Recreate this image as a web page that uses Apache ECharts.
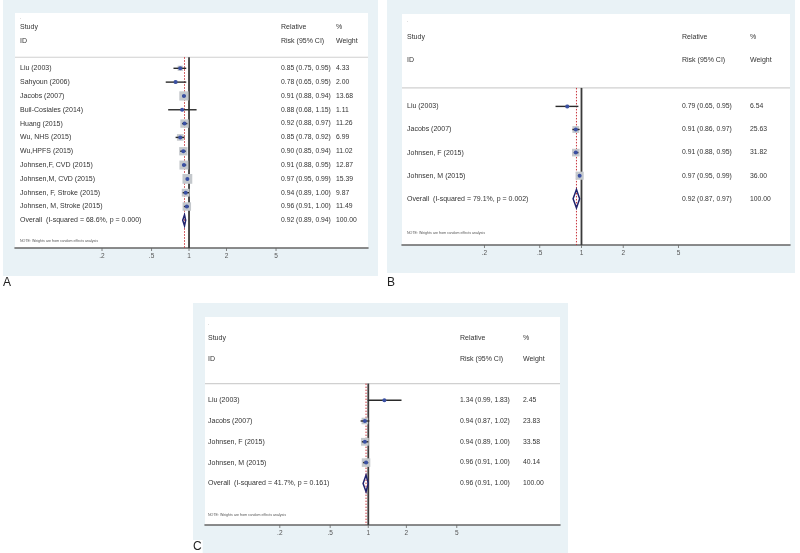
<!DOCTYPE html>
<html><head><meta charset="utf-8">
<script src="https://cdn.jsdelivr.net/npm/echarts@6/dist/echarts.min.js"></script>
<style>html,body{margin:0;padding:0;background:#fff}#c{width:800px;height:553px}</style>
</head><body><div id="c"></div>
<script>
// ---------- DATA ----------
const tickValues = [0.2, 0.5, 1, 2, 5];
const tickLabels = ['.2', '.5', '1', '2', '5'];
const headTop = ['Study', 'Relative', '%'];
const headBottom = ['ID', 'Risk (95% CI)', 'Weight'];
const noteText = 'NOTE: Weights are from random effects analysis';

// Panel A
const studyA = ['Liu (2003)', 'Sahyoun (2006)', 'Jacobs (2007)', 'Buil-Cosiales (2014)', 'Huang (2015)', 'Wu, NHS (2015)', 'Wu,HPFS (2015)', 'Johnsen,F, CVD (2015)', 'Johnsen,M, CVD (2015)', 'Johnsen, F, Stroke (2015)', 'Johnsen, M, Stroke (2015)', 'Overall  (I-squared = 68.6%, p = 0.000)'];
const rrA = [0.85, 0.78, 0.91, 0.88, 0.92, 0.85, 0.90, 0.91, 0.97, 0.94, 0.96, 0.92];
const loA = [0.75, 0.65, 0.88, 0.68, 0.88, 0.78, 0.85, 0.88, 0.95, 0.89, 0.91, 0.89];
const hiA = [0.95, 0.95, 0.94, 1.15, 0.97, 0.92, 0.94, 0.95, 0.99, 1.00, 1.00, 0.94];
const wA = [4.33, 2.00, 13.68, 1.11, 11.26, 6.99, 11.02, 12.87, 15.39, 9.87, 11.49, 100.00];

// Panel B
const studyB = ['Liu (2003)', 'Jacobs (2007)', 'Johnsen, F (2015)', 'Johnsen, M (2015)', 'Overall  (I-squared = 79.1%, p = 0.002)'];
const rrB = [0.79, 0.91, 0.91, 0.97, 0.92];
const loB = [0.65, 0.86, 0.88, 0.95, 0.87];
const hiB = [0.95, 0.97, 0.95, 0.99, 0.97];
const wB = [6.54, 25.63, 31.82, 36.00, 100.00];

// Panel C
const studyC = ['Liu (2003)', 'Jacobs (2007)', 'Johnsen, F (2015)', 'Johnsen, M (2015)', 'Overall  (I-squared = 41.7%, p = 0.161)'];
const rrC = [1.34, 0.94, 0.94, 0.96, 0.96];
const loC = [0.99, 0.87, 0.89, 0.91, 0.91];
const hiC = [1.83, 1.02, 1.00, 1.00, 1.00];
const wC = [2.45, 23.83, 33.58, 40.14, 100.00];

// ---------- LAYOUT ----------
const FONT = '"Liberation Sans", Arial, Helvetica, sans-serif';
const panels = [
  {name: 'A', studies: studyA, rr: rrA, lo: loA, hi: hiA, w: wA,
   grid: {left: 15, top: 13, width: 353, height: 235}, xr: [0.04, 27.4],
   labelDx: 5, ciDx: 266, wDx: 321, boxK: 2.5, hdrY: -0.8,
   bg: {x: 3, y: 0, width: 375, height: 276}, lab: {x: 2, y: 283}},
  {name: 'B', studies: studyB, rr: rrB, lo: loB, hi: hiB, w: wB,
   grid: {left: 402, top: 14, width: 388, height: 231}, xr: [0.0509, 31.8],
   labelDx: 5, ciDx: 280, wDx: 348, boxK: 1.35, hdrY: -0.8,
   bg: {x: 387, y: 0, width: 408, height: 273}, lab: {x: 386, y: 283}},
  {name: 'C', studies: studyC, rr: rrC, lo: loC, hi: hiC, w: wC,
   grid: {left: 205, top: 317, width: 355, height: 208}, xr: [0.0513, 32.7],
   labelDx: 3, ciDx: 255, wDx: 318, boxK: 1.35, hdrY: -0.8,
   bg: {x: 193, y: 303, width: 375, height: 250}, lab: {x: 192, y: 547}}
];

function txt(x, y, s, size, fill, align) {
  return {type: 'text', x: x, y: y, silent: true,
    style: {text: s, fill: fill || '#333', fontSize: size || 7, fontFamily: FONT,
      align: align || 'left', verticalAlign: 'middle'}};
}

const grids = [], xAxes = [], yAxes = [], series = [], graphics = [];

panels.forEach(function (p, k) {
  const n = p.studies.length;
  grids.push(Object.assign({containLabel: false}, p.grid));
  xAxes.push({type: 'log', logBase: 10, gridIndex: k, min: p.xr[0], max: p.xr[1],
    axisLine: {show: true, onZero: false, lineStyle: {color: '#666', width: 1.6}},
    axisTick: {show: false}, axisLabel: {show: false}, splitLine: {show: false}});
  yAxes.push({type: 'value', gridIndex: k, min: -4, max: n + 1, inverse: true, show: false,
    splitLine: {show: false}});

  graphics.push({type: 'rect', z: -10, shape: p.bg, style: {fill: '#e9f2f6'}});
  graphics.push({type: 'rect', z: -9, shape: {x: p.grid.left, y: p.grid.top, width: p.grid.width, height: p.grid.height}, style: {fill: '#ffffff'}});

  const overallRR = p.rr[n - 1];

  series.push({
    type: 'custom', xAxisIndex: k, yAxisIndex: k, silent: true, animation: false, clip: false,
    data: [[1, 0]], encode: {x: 0, y: 1},
    renderItem: function (params, api) {
      const cs = params.coordSys;
      const x0 = cs.x, bottom = cs.y + cs.height;
      const yH = api.coord([1, p.hdrY])[1];
      const ch = [];
      ch.push({type: 'line', shape: {x1: x0, y1: yH, x2: x0 + cs.width, y2: yH},
        style: {stroke: '#d0d0d0', lineWidth: 1.2}});
      const xNull = api.coord([1, 0])[0];
      ch.push({type: 'line', shape: {x1: xNull, y1: yH, x2: xNull, y2: bottom},
        style: {stroke: '#3a3a3a', lineWidth: 1.8}});
      const xOv = api.coord([overallRR, 0])[0];
      ch.push({type: 'line', shape: {x1: xOv, y1: yH, x2: xOv, y2: bottom},
        style: {stroke: '#c8333a', lineWidth: 1, lineDash: [1.5, 1.5]}});
      const cols = [p.labelDx, p.ciDx, p.wDx];
      ch.push(txt(x0 + p.labelDx, api.coord([1, -3.7])[1], '.', 5, '#888'));
      for (let c = 0; c < 3; c++) {
        ch.push(txt(x0 + cols[c], api.coord([1, -3])[1], headTop[c], 7));
        ch.push(txt(x0 + cols[c], api.coord([1, -2])[1], headBottom[c], 7));
      }
      ch.push(txt(x0 + p.labelDx, api.coord([1, n + 0.5])[1], noteText, 3.6, '#555'));
      tickValues.forEach(function (v, j) {
        const xt = api.coord([v, 0])[0];
        ch.push({type: 'line', shape: {x1: xt, y1: bottom, x2: xt, y2: bottom + 3},
          style: {stroke: '#666', lineWidth: 0.8}});
        ch.push(txt(xt, bottom + 8, tickLabels[j], 6.5, '#555', 'center'));
      });
      return {type: 'group', children: ch};
    }
  });

  const rows = p.studies.map(function (s, i) { return [i, p.rr[i], p.lo[i], p.hi[i], p.w[i]]; });
  series.push({
    type: 'custom', xAxisIndex: k, yAxisIndex: k, silent: true, animation: false, clip: false,
    data: rows, encode: {y: 0, x: [1, 2, 3]},
    renderItem: function (params, api) {
      const cs = params.coordSys;
      const i = api.value(0);
      const rr = api.value(1), lo = api.value(2), hi = api.value(3), w = api.value(4);
      const pc = api.coord([rr, i]);
      const pl = api.coord([lo, i]);
      const ph = api.coord([hi, i]);
      const rowH = Math.abs(api.coord([1, i + 1])[1] - api.coord([1, i])[1]);
      const y = pc[1];
      const ch = [];
      if (i === n - 1) {
        const h = rowH * 0.4;
        ch.push({type: 'polygon', shape: {points: [[pl[0], y], [pc[0], y - h], [ph[0], y], [pc[0], y + h]]},
          style: {fill: 'rgba(255,255,255,0)', stroke: '#20236e', lineWidth: 1.5}});
      } else {
        const s = p.boxK * Math.sqrt(w);
        ch.push({type: 'rect', shape: {x: pc[0] - s / 2, y: y - s / 2, width: s, height: s},
          style: {fill: '#c4c8cc'}});
        ch.push({type: 'line', shape: {x1: pl[0], y1: y, x2: ph[0], y2: y},
          style: {stroke: '#2a2a2a', lineWidth: 1.4}});
        ch.push({type: 'circle', shape: {cx: pc[0], cy: y, r: 2},
          style: {fill: '#3a50a3'}});
      }
      ch.push(txt(cs.x + p.labelDx, y, p.studies[i], 7));
      ch.push(txt(cs.x + p.ciDx, y, rr.toFixed(2) + ' (' + lo.toFixed(2) + ', ' + hi.toFixed(2) + ')', 6.8));
      ch.push(txt(cs.x + p.wDx, y, w.toFixed(2), 6.8));
      return {type: 'group', children: ch};
    }
  });

  graphics.push({type: 'text', z: 10, x: p.lab.x, y: p.lab.y,
    style: {text: p.name, fill: '#222', fontSize: 12, fontFamily: FONT, verticalAlign: 'middle',
      backgroundColor: '#fff', padding: [1, 1]}});
});

const chart = echarts.init(document.getElementById('c'), null, {renderer: 'canvas'});
chart.setOption({
  backgroundColor: '#ffffff',
  animation: false,
  graphic: graphics,
  grid: grids,
  xAxis: xAxes,
  yAxis: yAxes,
  series: series
});
</script>
</body></html>
